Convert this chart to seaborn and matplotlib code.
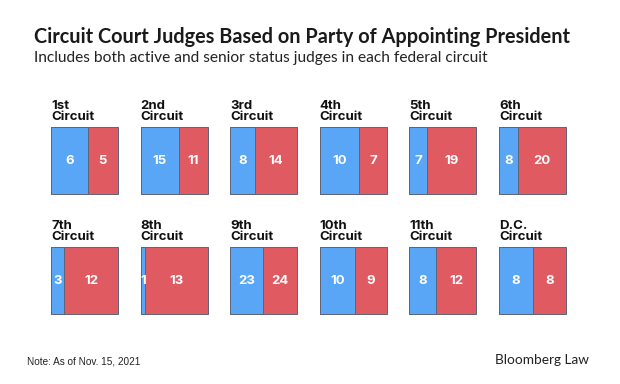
import matplotlib.pyplot as plt
import seaborn as sns

# Judges per circuit by party of appointing president
circuits = ["1st", "2nd", "3rd", "4th", "5th", "6th",
            "7th", "8th", "9th", "10th", "11th", "D.C."]
dem = [6, 15, 8, 10, 7, 8, 3, 1, 23, 10, 8, 8]
rep = [5, 11, 14, 7, 19, 20, 12, 13, 24, 9, 12, 8]

blue = "#5aa6f6"
red = "#e05a62"
edge = "#5f6478"

sns.set_theme(style="white")
plt.rcParams['font.family'] = ['Lato', 'DejaVu Sans']

W, H = 620, 384
fig = plt.figure(figsize=(W / 100, H / 100), dpi=100)
fig.patch.set_facecolor("white")

box = 67
for i, (name, d, r) in enumerate(zip(circuits, dem, rep)):
    row, col = divmod(i, 6)
    left = 51 + col * 89.6
    top = 127 + row * 120
    ax = fig.add_axes([left / W, 1 - (top + box) / H, box / W, box / H])
    total = d + r
    # stacked bar trick: full total in red, democrat share in blue on top
    sns.barplot(x=[total], y=["c"], orient="h", color=red, width=1,
                saturation=1, edgecolor=edge, linewidth=0.7, ax=ax)
    sns.barplot(x=[d], y=["c"], orient="h", color=blue, width=1,
                saturation=1, edgecolor=edge, linewidth=0.7, ax=ax)
    for p in ax.patches:
        p.set_clip_on(False)
    ax.set_xlim(0, total)
    ax.set_ylim(0.5, -0.5)
    ax.axis("off")
    ax.text(d / 2, 0, str(d), ha="center", va="center", color="white",
            fontsize=9.5, fontweight="bold", family=["Inter", "DejaVu Sans"])
    ax.text(d + r / 2, 0, str(r), ha="center", va="center", color="white",
            fontsize=9.5, fontweight="bold", family=["Inter", "DejaVu Sans"])
    fig.text(left / W, 1 - (top - 4) / H, f"{name}\nCircuit", ha="left",
             va="bottom", fontsize=9.5, fontweight="bold", linespacing=0.92,
             family=["Inter", "DejaVu Sans"], color="#111111")

fig.text(34 / W, 1 - 37 / H, "Circuit Court Judges Based on Party of Appointing President",
         ha="left", va="center", fontsize=14.3, fontweight="bold", color="#1a1a1a")
fig.text(34 / W, 1 - 58 / H, "Includes both active and senior status judges in each federal circuit",
         ha="left", va="center", fontsize=11.2, color="#222222")
fig.text(27 / W, 1 - 361 / H, "Note: As of Nov. 15, 2021", ha="left", va="center",
         fontsize=7.2, color="#222222", family=["Liberation Sans", "DejaVu Sans"])
fig.text(589 / W, 1 - 360 / H, "Bloomberg Law", ha="right", va="center",
         fontsize=9.8, color="#222222")

fig.savefig("out.png", dpi=100, facecolor="white")
